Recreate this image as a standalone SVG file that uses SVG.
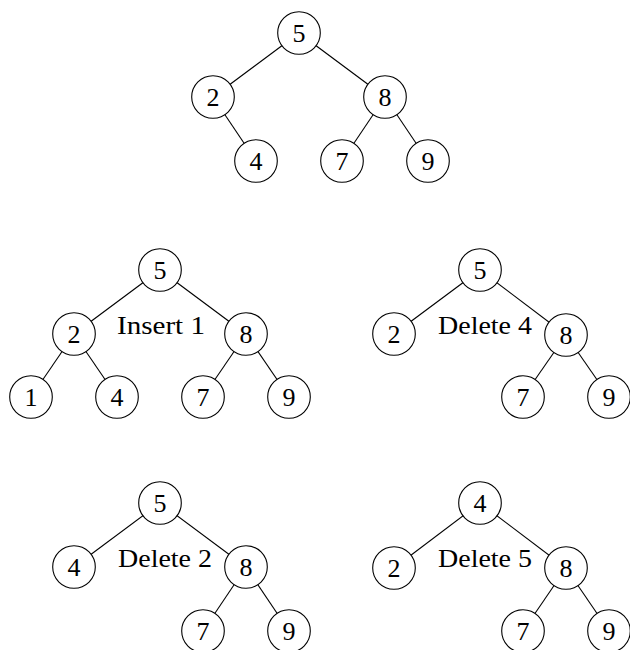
<svg xmlns="http://www.w3.org/2000/svg" width="630" height="650" viewBox="0 0 630 650">
<style>
.e{stroke:#000;stroke-width:1.1;fill:none}
.n circle{fill:#fff;stroke:#000;stroke-width:1.1}
.n text{font-family:"Liberation Serif","Times New Roman",serif;font-size:26px;text-anchor:middle;fill:#000}
.lb{font-family:"Liberation Serif","Times New Roman",serif;font-size:26px;fill:#000}
</style>
<rect width="630" height="650" fill="#fff"/>
<g id="connectors" class="e">
<!-- top -->
<line x1="299" y1="33" x2="213" y2="97"/>
<line x1="299" y1="33" x2="385" y2="97"/>
<line x1="213" y1="97" x2="256" y2="161"/>
<line x1="385" y1="97" x2="342" y2="161"/>
<line x1="385" y1="97" x2="428" y2="161"/>
<!-- middle left -->
<line x1="160" y1="270" x2="74" y2="334"/>
<line x1="160" y1="270" x2="246" y2="334"/>
<line x1="74" y1="334" x2="31" y2="397"/>
<line x1="74" y1="334" x2="117" y2="397"/>
<line x1="246" y1="334" x2="203" y2="397"/>
<line x1="246" y1="334" x2="289" y2="397"/>
<!-- middle right -->
<line x1="480" y1="270" x2="394" y2="334"/>
<line x1="480" y1="270" x2="566" y2="335"/>
<line x1="566" y1="335" x2="523" y2="397"/>
<line x1="566" y1="335" x2="609" y2="397"/>
<!-- bottom left -->
<line x1="160" y1="503" x2="74" y2="567"/>
<line x1="160" y1="503" x2="246" y2="567"/>
<line x1="246" y1="567" x2="203" y2="631"/>
<line x1="246" y1="567" x2="289" y2="631"/>
<!-- bottom right -->
<line x1="480" y1="503" x2="394" y2="568"/>
<line x1="480" y1="503" x2="566" y2="568"/>
<line x1="566" y1="568" x2="523" y2="631"/>
<line x1="566" y1="568" x2="609" y2="631"/>
</g>
<!-- top tree -->
<g id="t1-5" class="n"><circle cx="299" cy="33" r="21.3"/><text x="299" y="41.8">5</text></g>
<g id="t1-2" class="n"><circle cx="213" cy="97" r="21.3"/><text x="213" y="105.8">2</text></g>
<g id="t1-8" class="n"><circle cx="385" cy="97" r="21.3"/><text x="385" y="105.8">8</text></g>
<g id="t1-4" class="n"><circle cx="256" cy="161" r="21.3"/><text x="256" y="169.8">4</text></g>
<g id="t1-7" class="n"><circle cx="342" cy="161" r="21.3"/><text x="342" y="169.8">7</text></g>
<g id="t1-9" class="n"><circle cx="428" cy="161" r="21.3"/><text x="428" y="169.8">9</text></g>
<!-- insert 1 -->
<g id="t2-5" class="n"><circle cx="160" cy="270" r="21.3"/><text x="160" y="278.8">5</text></g>
<g id="t2-2" class="n"><circle cx="74" cy="334" r="21.3"/><text x="74" y="342.8">2</text></g>
<g id="t2-8" class="n"><circle cx="246" cy="334" r="21.3"/><text x="246" y="342.8">8</text></g>
<g id="t2-1" class="n"><circle cx="31" cy="397" r="21.3"/><text x="31" y="405.8">1</text></g>
<g id="t2-4" class="n"><circle cx="117" cy="397" r="21.3"/><text x="117" y="405.8">4</text></g>
<g id="t2-7" class="n"><circle cx="203" cy="397" r="21.3"/><text x="203" y="405.8">7</text></g>
<g id="t2-9" class="n"><circle cx="289" cy="397" r="21.3"/><text x="289" y="405.8">9</text></g>
<text id="label-insert1" class="lb" x="117" y="334" textLength="88" lengthAdjust="spacingAndGlyphs">Insert 1</text>
<!-- delete 4 -->
<g id="t3-5" class="n"><circle cx="480" cy="270" r="21.3"/><text x="480" y="278.8">5</text></g>
<g id="t3-2" class="n"><circle cx="394" cy="334" r="21.3"/><text x="394" y="342.8">2</text></g>
<g id="t3-8" class="n"><circle cx="566" cy="335" r="21.3"/><text x="566" y="343.8">8</text></g>
<g id="t3-7" class="n"><circle cx="523" cy="397" r="21.3"/><text x="523" y="405.8">7</text></g>
<g id="t3-9" class="n"><circle cx="609" cy="397" r="21.3"/><text x="609" y="405.8">9</text></g>
<text id="label-delete4" class="lb" x="438" y="333.5" textLength="94" lengthAdjust="spacingAndGlyphs">Delete 4</text>
<!-- delete 2 -->
<g id="t4-5" class="n"><circle cx="160" cy="503" r="21.3"/><text x="160" y="511.8">5</text></g>
<g id="t4-4" class="n"><circle cx="74" cy="567" r="21.3"/><text x="74" y="575.8">4</text></g>
<g id="t4-8" class="n"><circle cx="246" cy="567" r="21.3"/><text x="246" y="575.8">8</text></g>
<g id="t4-7" class="n"><circle cx="203" cy="631" r="21.3"/><text x="203" y="639.8">7</text></g>
<g id="t4-9" class="n"><circle cx="289" cy="631" r="21.3"/><text x="289" y="639.8">9</text></g>
<text id="label-delete2" class="lb" x="118" y="567" textLength="94" lengthAdjust="spacingAndGlyphs">Delete 2</text>
<!-- delete 5 -->
<g id="t5-4" class="n"><circle cx="480" cy="503" r="21.3"/><text x="480" y="511.8">4</text></g>
<g id="t5-2" class="n"><circle cx="394" cy="568" r="21.3"/><text x="394" y="576.8">2</text></g>
<g id="t5-8" class="n"><circle cx="566" cy="568" r="21.3"/><text x="566" y="576.8">8</text></g>
<g id="t5-7" class="n"><circle cx="523" cy="631" r="21.3"/><text x="523" y="639.8">7</text></g>
<g id="t5-9" class="n"><circle cx="609" cy="631" r="21.3"/><text x="609" y="639.8">9</text></g>
<text id="label-delete5" class="lb" x="438" y="567" textLength="94" lengthAdjust="spacingAndGlyphs">Delete 5</text>
</svg>
